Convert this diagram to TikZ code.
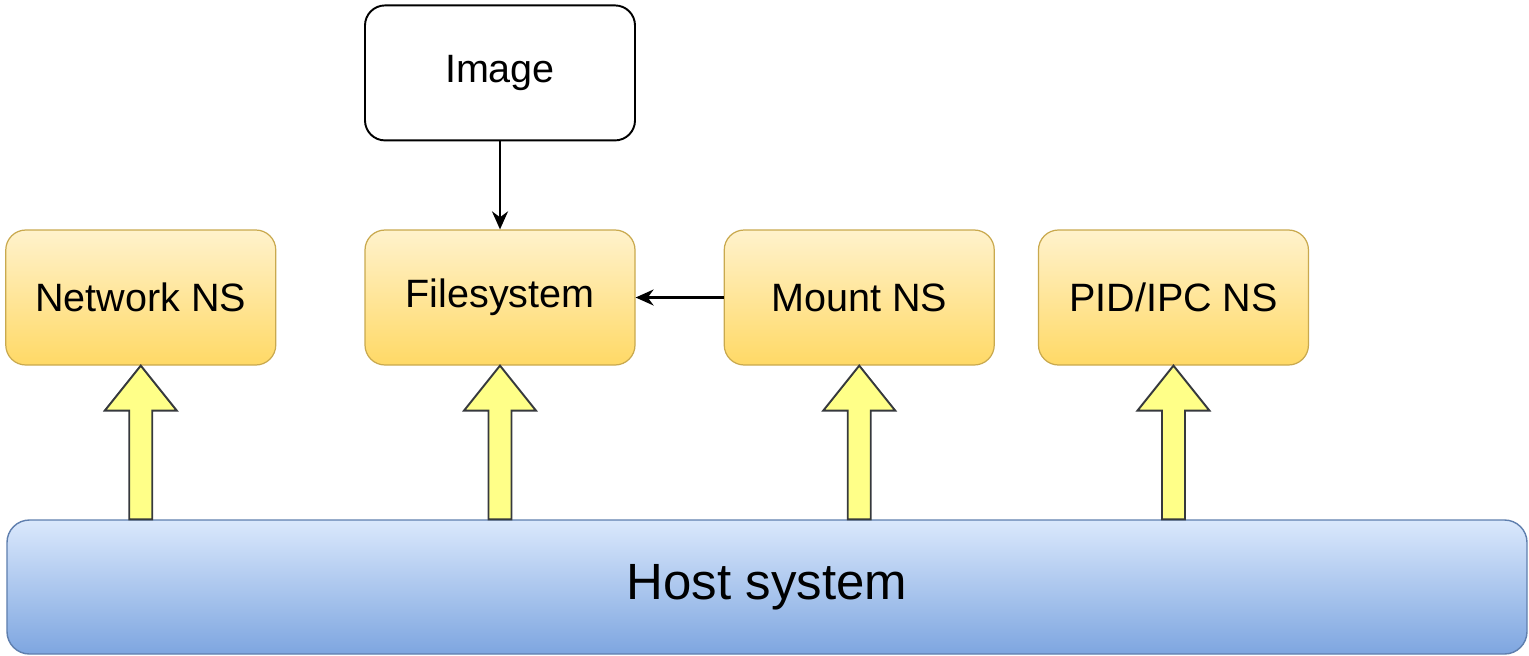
\documentclass[tikz,border=0pt]{standalone}
\usepackage{fontspec}
\setmainfont{Liberation Sans}
\usepackage{xcolor}
\usepackage{tikz}
\usetikzlibrary{positioning,arrows.meta,calc}
\definecolor{nstop}{HTML}{FFF2CC}
\definecolor{nsbottom}{HTML}{FFD966}
\definecolor{nsline}{HTML}{C9A94E}
\definecolor{hosttop}{HTML}{DAE8FC}
\definecolor{hostbottom}{HTML}{7EA6E0}
\definecolor{hostline}{HTML}{5F7FAE}
\definecolor{arrowfill}{HTML}{FFFF88}
\definecolor{arrowline}{HTML}{36393D}
\tikzset{
  nsbox/.style={
    draw=nsline,
    line width=0.7pt,
    rounded corners=0.4cm,
    top color=nstop,
    bottom color=nsbottom,
    minimum width=5.4cm,
    minimum height=2.7cm,
    font=\fontsize{22.5}{27}\selectfont
  },
  imagebox/.style={
    nsbox,
    draw=black,
    line width=1.1pt,
    top color=white,
    bottom color=white
  },
  hostbar/.style={
    draw=hostline,
    line width=0.8pt,
    rounded corners=0.45cm,
    top color=hosttop,
    bottom color=hostbottom,
    minimum width=30.4cm,
    minimum height=2.68cm,
    font=\fontsize{29}{34}\selectfont
  },
  uparrow/.style={
    draw=arrowline,
    fill=arrowfill,
    line width=1.1pt,
    line join=miter
  },
  link/.style={
    -{Stealth[length=3.6mm,width=3.2mm]},
    line width=1.3pt,
    black
  }
}

\begin{document}
\begin{tikzpicture}[node distance=1.8cm and 1.76cm]

\useasboundingbox (0,0) rectangle (30.58,-13.1);

\node[nsbox] (filesystem) at (10,-5.95) {Filesystem};
\node[nsbox, left=of filesystem] (network) {Network NS};
\node[nsbox, right=of filesystem] (mount) {Mount NS};
\node[nsbox, right=0.86cm of mount] (pidipc) {PID/IPC NS};

\node[imagebox, above=1.76cm of filesystem] (image) {Image};

\node[hostbar] (host) at (15.34,-11.74) {Host system};

% namespaces sit on the host
\foreach \ns in {network,filesystem,mount,pidipc}
  \draw[uparrow] (\ns.south) -- ++(0.72,-0.9) -- ++(-0.49,0)
    -- ($(\ns.south |- host.north)+(0.23,0)$) -- ++(-0.46,0)
    -- ($(\ns.south)+(-0.23,-0.9)$) -- ++(-0.49,0) -- cycle;

\draw[link] (image.south) -- (filesystem.north);
\draw[link] (mount.west) -- (filesystem.east);

\end{tikzpicture}
\end{document}
